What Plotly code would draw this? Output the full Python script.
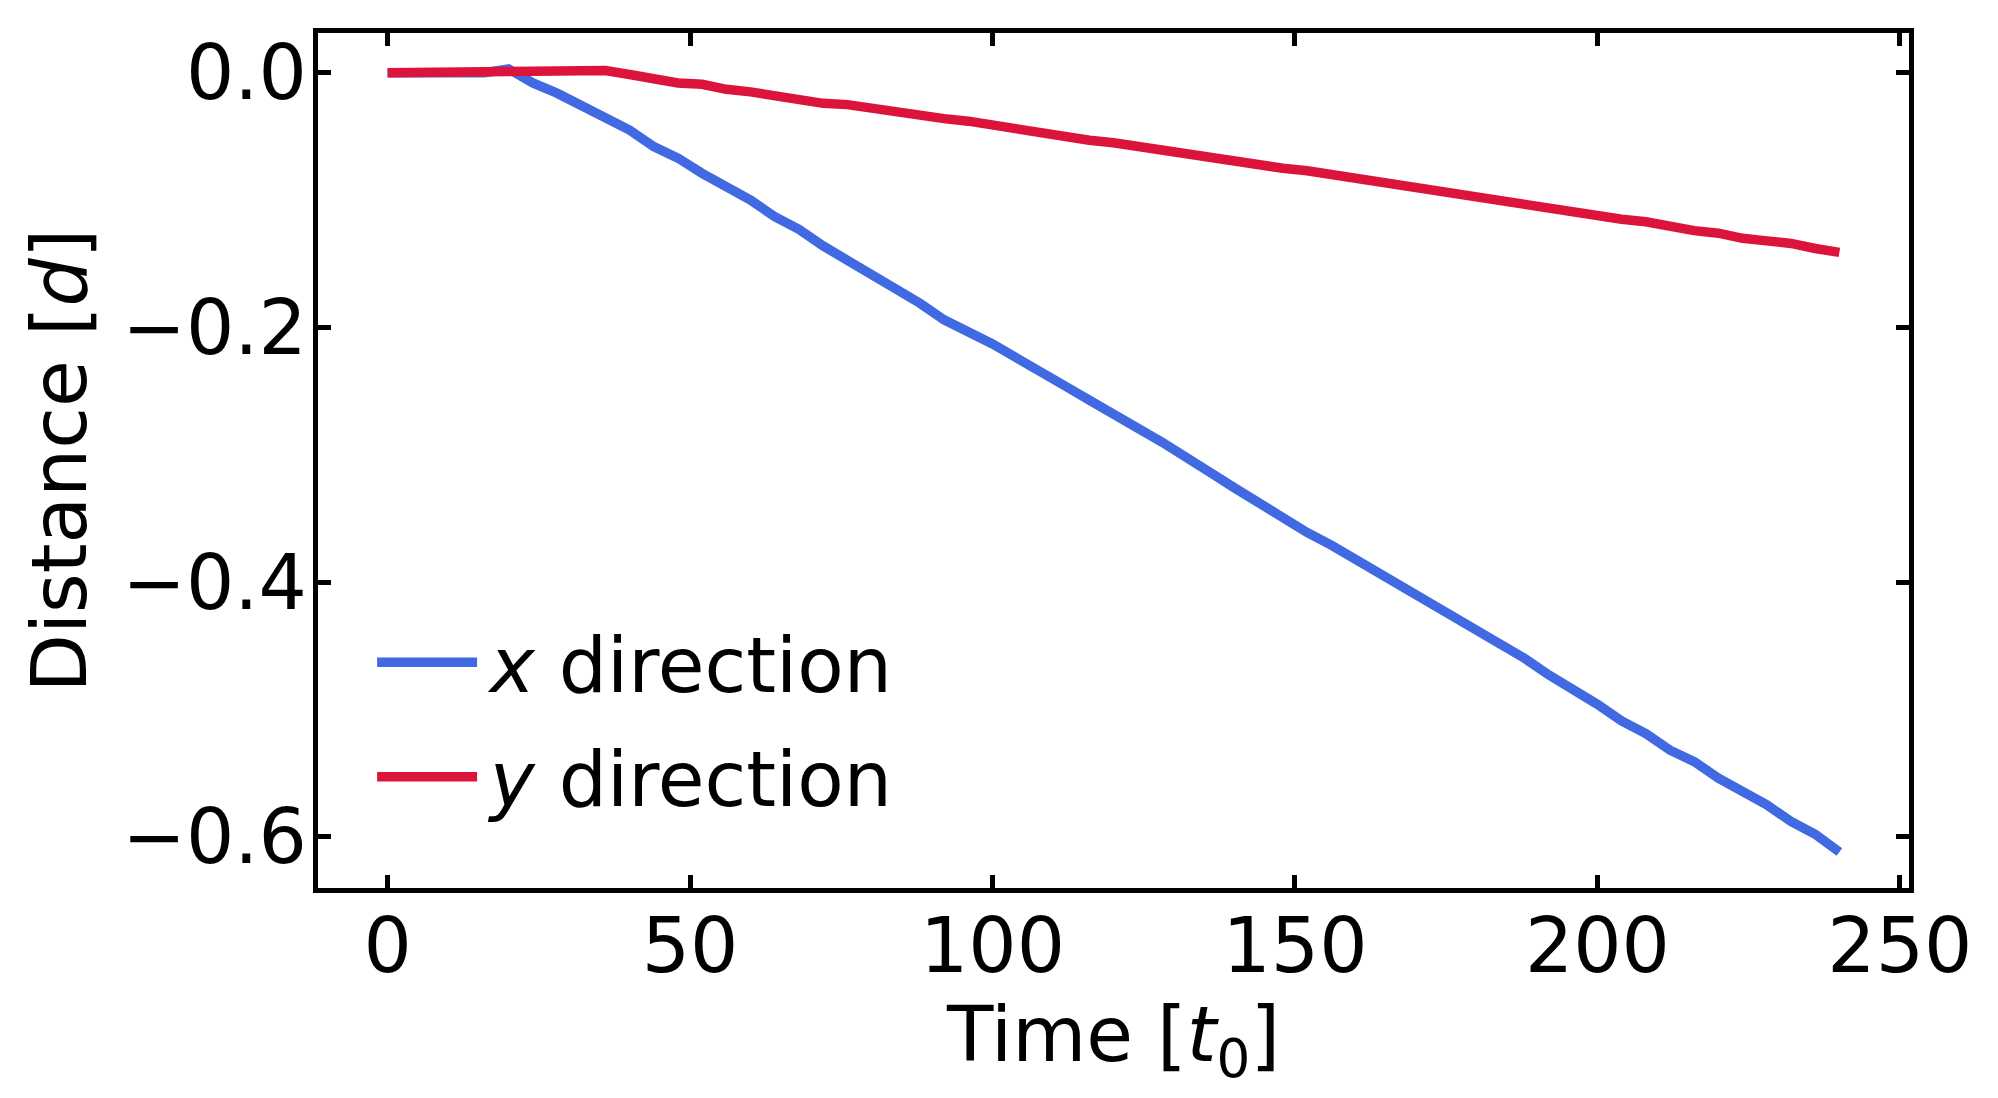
import plotly.graph_objects as go

# time axis [t0]
time = [0, 4, 8, 12, 16, 20, 24, 28, 32, 36, 40, 44, 48, 52, 56, 60, 64, 68, 72, 76,
        80, 84, 88, 92, 96, 100, 104, 108, 112, 116, 120, 124, 128, 132, 136, 140,
        144, 148, 152, 156, 160, 164, 168, 172, 176, 180, 184, 188, 192, 196, 200,
        204, 208, 212, 216, 220, 224, 228, 232, 236, 240]

# displacement in x direction [d]
x_dir = [0.0, 0.0, 0.0, 0.0, 0.0, 0.003, -0.008, -0.016, -0.026, -0.034, -0.045,
         -0.058, -0.067, -0.079, -0.089, -0.100, -0.113, -0.123, -0.136, -0.147,
         -0.159, -0.171, -0.181, -0.194, -0.203, -0.213, -0.224, -0.234, -0.246,
         -0.257, -0.267, -0.279, -0.290, -0.303, -0.314, -0.326, -0.338, -0.348,
         -0.361, -0.371, -0.382, -0.393, -0.404, -0.415, -0.425, -0.436, -0.448,
         -0.460, -0.473, -0.484, -0.496, -0.509, -0.519, -0.532, -0.541, -0.554,
         -0.564, -0.575, -0.588, -0.598, -0.612]

# displacement in y direction [d]
y_dir = [0.0, 0.0, 0.0, 0.0, 0.0, 0.0, 0.0005, 0.0013, 0.0016, 0.0018, -0.0013,
         -0.005, -0.008, -0.009, -0.013, -0.015, -0.018, -0.021, -0.024, -0.025,
         -0.028, -0.031, -0.034, -0.036, -0.038, -0.041, -0.045, -0.048, -0.050,
         -0.053, -0.055, -0.058, -0.060, -0.063, -0.067, -0.070, -0.073, -0.075,
         -0.077, -0.080, -0.083, -0.086, -0.089, -0.092, -0.094, -0.097, -0.100,
         -0.103, -0.106, -0.109, -0.112, -0.115, -0.117, -0.121, -0.124, -0.126,
         -0.130, -0.132, -0.134, -0.138, -0.141]

series_names = ["\u200a<i>x</i> direction", "\u200a<i>y</i> direction"]
x_ticks = [0, 50, 100, 150, 200, 250]
y_ticks = [0.0, -0.2, -0.4, -0.6]

FONT = "DejaVu Sans"
FS = 76

fig = go.Figure()
fig.add_trace(go.Scatter(x=time, y=x_dir, mode="lines", name=series_names[0],
                         line=dict(color="#4169E1", width=9.5), legend="legend",
                         showlegend=True))
fig.add_trace(go.Scatter(x=time, y=y_dir, mode="lines", name=series_names[1],
                         line=dict(color="#DC143C", width=9.5), legend="legend2",
                         showlegend=True))

axis_common = dict(showline=True, linecolor="black", linewidth=5, mirror="ticks",
                   ticks="inside", ticklen=13, tickwidth=5, tickcolor="black",
                   showgrid=False, zeroline=False,
                   tickfont=dict(family=FONT, size=FS, color="black"))

fig.update_xaxes(range=[-11.505, 251.505], tickvals=x_ticks,
                 ticktext=[str(v) for v in x_ticks],
                 ticklabelstandoff=-12,
                 title=dict(text="Time [<i>t</i><sub>0</sub>]",
                            font=dict(family=FONT, size=FS, color="black"), standoff=0),
                 **axis_common)
fig.update_yaxes(range=[-0.64025, 0.03125], tickvals=y_ticks, tickformat=".1f",
                 ticklabelstandoff=-9,
                 title=dict(text="Distance [<i>d</i>]",
                            font=dict(family=FONT, size=FS, color="black"), standoff=12),
                 **axis_common)

leg_common = dict(xanchor="left", yanchor="middle", bgcolor="rgba(0,0,0,0)",
                  borderwidth=0, font=dict(family=FONT, size=FS, color="black"),
                  itemwidth=100, visible=True)

fig.update_layout(
    width=1982, height=1082,
    margin=dict(l=310, r=81, t=25, b=202),
    paper_bgcolor="white", plot_bgcolor="white",
    showlegend=True,
    font=dict(family=FONT, size=FS, color="black"),
    legend=dict(x=0.034, y=0.264, **leg_common),
    legend2=dict(x=0.034, y=0.13, **leg_common),
)

fig.write_html("out.html")
